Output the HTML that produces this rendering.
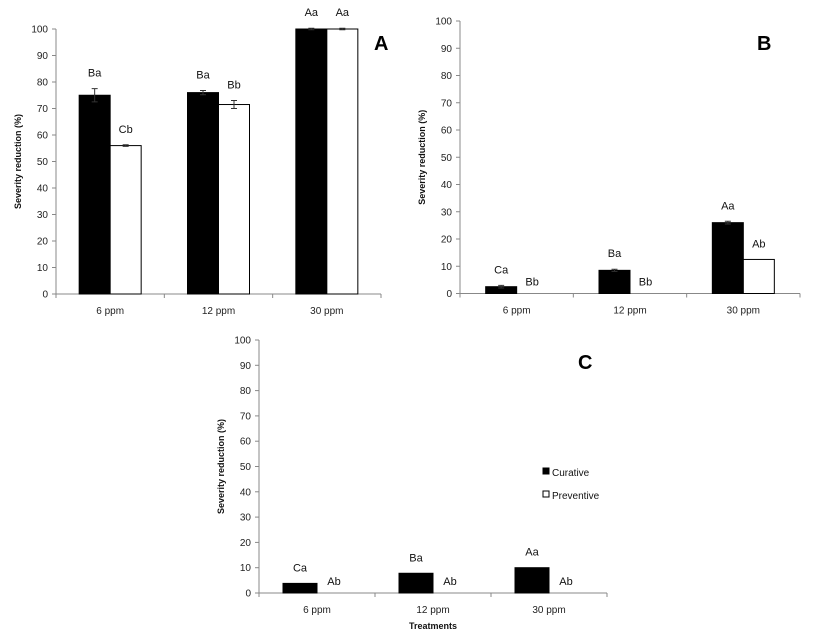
<!DOCTYPE html>
<html><head><meta charset="utf-8"><style>
html,body{margin:0;padding:0;background:#fff;}
svg{display:block;font-family:"Liberation Sans",sans-serif;}
</style></head><body>
<svg id="fig" width="818" height="635" viewBox="0 0 818 635"></svg>
<script>
const categories = ["6 ppm","12 ppm","30 ppm"];
const yTicks = [0,10,20,30,40,50,60,70,80,90,100];
const curativeA = [75,76,100];
const curativeErrA = [2.5,0.8,0.3];
const preventiveA = [56,71.5,100];
const preventiveErrA = [0.3,1.5,0.3];
const curLabelsA = ["Ba","Ba","Aa"];
const prevLabelsA = ["Cb","Bb","Aa"];
const curativeB = [2.5,8.5,26];
const curativeErrB = [0.5,0.4,0.5];
const preventiveB = [0,0,12.5];
const preventiveErrB = [0,0,0];
const curLabelsB = ["Ca","Ba","Aa"];
const prevLabelsB = ["Bb","Bb","Ab"];
const curativeC = [3.8,7.8,10];
const curativeErrC = [0,0,0];
const preventiveC = [0,0,0];
const preventiveErrC = [0,0,0];
const curLabelsC = ["Ca","Ba","Aa"];
const prevLabelsC = ["Ab","Ab","Ab"];

const NS="http://www.w3.org/2000/svg";
const svg=document.getElementById('fig');
function mk(tag,attrs,parent,text){const e=document.createElementNS(NS,tag);for(const k in attrs)e.setAttribute(k,attrs[k]);if(text!==undefined)e.textContent=text;(parent||svg).appendChild(e);return e;}

function panel(cfg){
  const g=mk('g',{});
  
  
  const y=v=>cfg.y0-(cfg.y0-cfg.y100)*v/100;
  const gw=(cfg.xr-cfg.x0)/categories.length;
  const ax=mk('g',{},g);
  
  
  mk('line',{x1:cfg.x0,y1:cfg.y100,x2:cfg.x0,y2:cfg.y0,stroke:'#888','stroke-width':1},ax);
  yTicks.forEach(t=>{
    mk('line',{x1:cfg.x0-4,y1:y(t),x2:cfg.x0,y2:y(t),stroke:'#888'},ax);
    const tl=mk('text',{x:cfg.x0-8,y:y(t)+3.5,'font-size':10,'text-anchor':'end',fill:'#222'},ax,t);
    
    
  });
  const yt=mk('text',{x:0,y:0,'font-size':9,'font-weight':'bold','text-anchor':'middle',fill:'#111',transform:`translate(${cfg.x0-35},${(cfg.y0+cfg.y100)/2}) rotate(-90)`},ax,'Severity reduction (%)');
  
  
  const xa=mk('g',{},g);
  
  
  mk('line',{x1:cfg.x0,y1:cfg.y0,x2:cfg.xr,y2:cfg.y0,stroke:'#888'},xa);
  for(let i=0;i<=categories.length;i++) mk('line',{x1:cfg.x0+i*gw,y1:cfg.y0,x2:cfg.x0+i*gw,y2:cfg.y0+4,stroke:'#888'},xa);
  categories.forEach((c,i)=>{
    const cl=mk('text',{x:cfg.x0+(i+0.5)*gw,y:cfg.y0+20,'font-size':10,'text-anchor':'middle',fill:'#222'},xa,c);
    
    
  });
  const bw=cfg.bw;
  const series=[[cfg.cur,cfg.curErr,cfg.curL,'#000',-1,'curative'],[cfg.prev,cfg.prevErr,cfg.prevL,'#fff',0,'preventive']];
  series.forEach(([vals,errs,labs,fill,off,nm])=>{
    vals.forEach((v,i)=>{
      const cx=cfg.x0+(i+0.5)*gw;
      const bx=cx+off*bw;
      if(v>0){
        const r=mk('rect',{x:bx,y:y(v),width:bw,height:cfg.y0-y(v),fill:fill,stroke:'#000','stroke-width':1},g);
        
        
        if(errs[i]>0){
          const ex=bx+bw/2;
          const e=mk('path',{d:`M${ex},${y(v-errs[i])}V${y(v+errs[i])}M${ex-3},${y(v+errs[i])}H${ex+3}M${ex-3},${y(v-errs[i])}H${ex+3}`,stroke:'#333','stroke-width':1,fill:'none'},g);
          
          
        }
      }
      const ly=v>0?y(v+errs[i])-12:cfg.y0-8;
      const t=mk('text',{x:bx+bw/2,y:ly,'font-size':11,'text-anchor':'middle',fill:'#111'},g,labs[i]);
      
      
    });
  });
  const pl=mk('text',{x:cfg.lx,y:cfg.ly,'font-size':20,'font-weight':'bold',fill:'#000'},g,cfg.letter);
  
  
}
panel({name:'panel-a',x0:56,xr:381,y0:294,y100:29,bw:31,cur:curativeA,curErr:curativeErrA,prev:preventiveA,prevErr:preventiveErrA,curL:curLabelsA,prevL:prevLabelsA,letter:'A',lx:374,ly:50});
panel({name:'panel-b',x0:460,xr:800,y0:293.5,y100:21,bw:31,cur:curativeB,curErr:curativeErrB,prev:preventiveB,prevErr:preventiveErrB,curL:curLabelsB,prevL:prevLabelsB,letter:'B',lx:757,ly:50});
panel({name:'panel-c',x0:259,xr:607,y0:593,y100:340,bw:34,cur:curativeC,curErr:curativeErrC,prev:preventiveC,prevErr:preventiveErrC,curL:curLabelsC,prevL:prevLabelsC,letter:'C',lx:578,ly:369});

const xt=mk('text',{x:433,y:629,'font-size':9,'font-weight':'bold','text-anchor':'middle',fill:'#111'},svg,'Treatments');


const lg=mk('g',{});


const l1=mk('g',{},lg);


mk('rect',{x:543,y:468,width:6,height:6,fill:'#000',stroke:'#000'},l1);
mk('text',{x:552,y:476,'font-size':10,fill:'#111'},l1,'Curative');
const l2=mk('g',{},lg);


mk('rect',{x:543,y:491,width:6,height:6,fill:'#fff',stroke:'#000'},l2);
mk('text',{x:552,y:499,'font-size':10,fill:'#111'},l2,'Preventive');
</script>
</body></html>
